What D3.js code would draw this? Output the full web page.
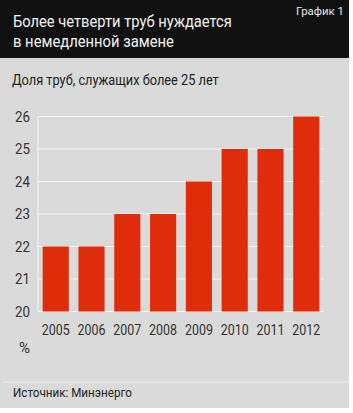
<!DOCTYPE html>
<meta charset="utf-8">
<html>
  <head>
    <script src="https://cdn.jsdelivr.net/npm/d3@7"></script>
    <style>
      body { margin: 0; background: #fff; }
      text { font-family: Roboto, "DejaVu Sans", sans-serif; }
    </style>
  </head>
  <body>
    <div id="chart"></div>

    <script type="text/javascript">
      var years = ["2005", "2006", "2007", "2008", "2009", "2010", "2011", "2012"],
          shares = [22, 22, 23, 23, 24, 25, 25, 26],
          yTicks = [20, 21, 22, 23, 24, 25, 26];

      var W = 353, H = 413,
          font = "Roboto, sans-serif",
          plot = { left: 38, right: 324, top: 116.5, bottom: 311.5 };

      var svg = d3.select("#chart").append("svg")
          .attr("width", W)
          .attr("height", H);

      // no condensed face installed, so squeeze text horizontally to the print widths
      function squeeze(sel, w, x, y) {
        sel.each(function() {
          var sx = w / this.getComputedTextLength();
          var t = (x === undefined) ? "" : "translate(" + x + "," + y + ") ";
          d3.select(this).attr("transform", t + "scale(" + sx + ",1)");
        });
      }

      function label(txt, x, y, size, color, w) {
        return svg.append("text").text(txt)
            .style("font-size", size + "px").style("fill", color)
            .call(squeeze, w, x, y);
      }

      // background panels
      svg.append("rect").attr("x", 0).attr("y", 0).attr("width", 349).attr("height", 408).style("fill", "#dadada");
      svg.append("rect").attr("x", 0).attr("y", 0).attr("width", 349).attr("height", 58).style("fill", "#111");

      label("Более четверти труб нуждается", 13, 26.5, 17, "#f2f2f2", 219);
      label("в немедленной замене", 13, 46.5, 17, "#f2f2f2", 161);
      label("График 1", 296, 15, 11.5, "#e6e6e6", 48);
      label("Доля труб, служащих более 25 лет", 12, 85, 14, "#222", 207);

      var x = d3.scaleBand().domain(years).range([plot.left, plot.right]).paddingInner(0.27).paddingOuter(0.13);
      var y = d3.scaleLinear().domain([20, 26]).range([plot.bottom, plot.top]);

      // gridlines
      svg.selectAll(".grid")
          .data(yTicks)
          .enter().append("line")
            .attr("x1", plot.left).attr("x2", plot.right)
            .attr("y1", function(d) { return y(d); })
            .attr("y2", function(d) { return y(d); })
            .style("stroke", "#f4f4f4")
            .style("stroke-width", "1.2px");

      svg.append("line")
          .attr("x1", plot.left).attr("x2", plot.left)
          .attr("y1", y(26)).attr("y2", y(20))
          .style("stroke", "#f4f4f4").style("stroke-width", "1.2px");

      var yAxis = svg.append("g")
          .attr("transform", "translate(" + (plot.left - 8) + ",0)")
          .call(d3.axisLeft(y).tickValues(yTicks).tickFormat(d3.format("d")).tickSize(0).tickPadding(0));
      yAxis.select(".domain").remove();
      yAxis.selectAll("text").style("font-size", "14.5px").style("fill", "#333").style("font-family", font)
          .call(squeeze, 15);

      svg.selectAll(".bar")
          .data(shares)
          .enter().append("rect")
            .attr("x", function(d, i) { return x(years[i]); })
            .attr("y", function(d) { return y(d); })
            .attr("width", x.bandwidth())
            .attr("height", function(d) { return y(20) - y(d); })
            .style("fill", "#df2d0c");

      var xAxis = svg.append("g")
          .attr("transform", "translate(0," + (plot.bottom + 9) + ")")
          .call(d3.axisBottom(x).tickSize(0).tickPadding(4));
      xAxis.select(".domain").remove();
      xAxis.selectAll("text").style("font-size", "14.5px").style("fill", "#333").style("font-family", font)
          .call(squeeze, 28);

      label("%", 19, 353, 14, "#333", 11);

      svg.append("line")
          .attr("x1", 3).attr("x2", 349).attr("y1", 382).attr("y2", 382)
          .style("stroke", "#efefef").style("stroke-width", "1px");

      label("Источник: Минэнерго", 13, 397, 13, "#222", 119);
    </script>
  </body>
</html>
